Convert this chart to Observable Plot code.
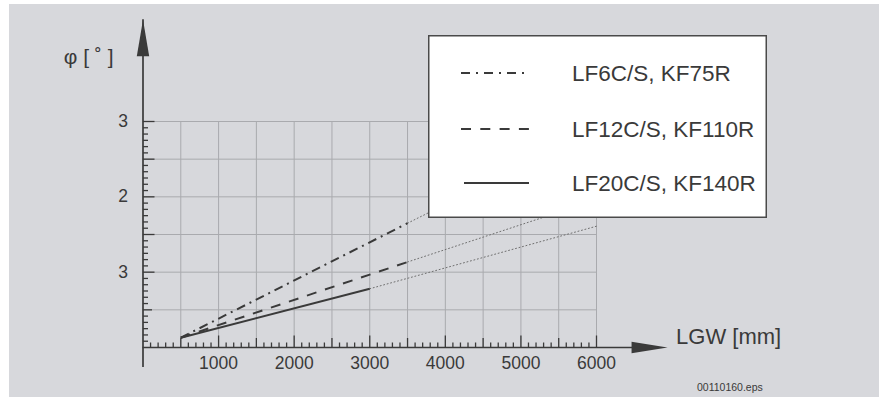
<!DOCTYPE html>
<html>
<head>
<meta charset="utf-8">
<script src="https://cdn.jsdelivr.net/npm/d3@7"></script>
<script src="https://cdn.jsdelivr.net/npm/@observablehq/plot@0.6"></script>
<style>
  body { margin: 0; background: #ffffff; font-family: "Liberation Sans", Arial, Helvetica, sans-serif; }
  #wrap { position: relative; width: 879px; height: 398px; overflow: hidden; }
  #bg { position: absolute; left: 9px; top: 4px; width: 870px; height: 393px; background: #d7d8dc; }
  #chart { position: absolute; left: 0; top: 0; }
  #legend { position: absolute; left: 428px; top: 35px; }
  #note { position: absolute; left: 697px; top: 380px; font-size: 10.5px; color: #3a3a3a; line-height: 14px; }
</style>
</head>
<body>
<div id="wrap">
  <div id="bg"></div>
  <div id="chart"></div>
  <div id="legend"></div>
  <div id="note"></div>
</div>
<script>
// ---- data ----
const seriesNames = ["LF6C/S, KF75R", "LF12C/S, KF110R", "LF20C/S, KF140R"];
const solidLGW = [[500, 3500], [500, 3500], [500, 3000]];
const solidPhi = [[0.13, 1.65], [0.13, 1.135], [0.13, 0.78]];
const dottedLGW = [[3500, 6000], [3500, 6000], [3000, 6000]];
const dottedPhi = [[1.65, 2.9], [1.135, 1.96], [0.78, 1.61]];
const xTickValues = [1000, 2000, 3000, 4000, 5000, 6000];
const yTickValues = [1, 2, 3];
const yTickLabels = ["3", "2", "3"];
const xGrid = [500, 1000, 1500, 2000, 2500, 3000, 3500, 4000, 4500, 5000, 5500, 6000];
const yGrid = [0.5, 1, 1.5, 2, 2.5, 3];
const xAxisEnd = 6940;
const yAxisEnd = 4.35;
const xLabel = "LGW [mm]";
const yLabel = "φ [ ˚ ]";
const fileNote = "00110160.eps";

// ---- styles ----
const ink = "#3a3a3a";
const gridColor = "#a9aaae";
const dashes = ["9,5,2,5", "10,9", null];
const legendDashes = ["9,6,2,6", "10,9.3", null];
const font = "'Liberation Sans', Arial, Helvetica, sans-serif";

const solidRows = seriesNames.flatMap((s, i) => solidLGW[i].map((x, j) => ({series: s, x, y: solidPhi[i][j]})));
const dottedRows = seriesNames.flatMap((s, i) => dottedLGW[i].map((x, j) => ({series: s, x, y: dottedPhi[i][j]})));

const xMinor = d3.range(100, 6001, 100).filter(v => v % 500 !== 0);
const xHalf = xGrid.filter(v => v % 1000 !== 0);
const xWhole = xGrid.filter(v => v % 1000 === 0);
const yMinor = d3.range(1, 37).map(k => k / 12).filter(v => Math.abs(v * 2 - Math.round(v * 2)) > 1e-6);
const yMajor = yGrid.filter(v => v !== 0.5);

const tickUp = len => ({draw(ctx) { ctx.moveTo(0, 0); ctx.lineTo(0, -len); }});
const tickRight = len => ({draw(ctx) { ctx.moveTo(0, 0); ctx.lineTo(len, 0); }});
const headRight = {draw(ctx) { ctx.moveTo(0, 0); ctx.lineTo(-36, -5.8); ctx.lineTo(-36, 5.8); ctx.closePath(); }};
const headUp = {draw(ctx) { ctx.moveTo(0, 0); ctx.lineTo(-6.2, 36.5); ctx.lineTo(6.2, 36.5); ctx.closePath(); }};
const yLabelOf = new Map(yTickValues.map((v, i) => [v, yTickLabels[i]]));

const lineMarks = seriesNames.map((s, i) =>
  Plot.line(solidRows.filter(d => d.series === s), {
    x: "x", y: "y", stroke: ink, strokeWidth: 2,
    strokeDasharray: dashes[i] || undefined, strokeLinecap: "butt"
  })
);

const plot = Plot.plot({
  width: 879,
  height: 398,
  marginLeft: 142.5,
  marginRight: 283,
  marginTop: 121,
  marginBottom: 51,
  x: {domain: [0, 6000]},
  y: {domain: [0, 3]},
  style: {background: "transparent", color: ink, fontFamily: font, maxWidth: "none"},
  marks: [
    Plot.ruleX(xGrid, {y1: 0, y2: 3, stroke: gridColor, strokeWidth: 1}),
    Plot.ruleY(yGrid, {x1: 0, x2: 6000, stroke: gridColor, strokeWidth: 1}),
    Plot.line(dottedRows, {x: "x", y: "y", z: "series", stroke: "#6f6f6f", strokeWidth: 1, strokeDasharray: "1,2.6"}),
    ...lineMarks,
    // axes lines
    Plot.ruleY([0], {x1: 0, x2: xAxisEnd, insetRight: 20, stroke: ink, strokeWidth: 1.7}),
    Plot.ruleX([0], {y1: 0, y2: yAxisEnd, insetTop: 20, stroke: ink, strokeWidth: 1.7}),
    Plot.dot([0], {x: xAxisEnd, y: 0, symbol: headRight, fill: ink, stroke: "none"}),
    Plot.dot([0], {x: 0, y: yAxisEnd, symbol: headUp, fill: ink, stroke: "none"}),
    // tick marks
    Plot.dot(xMinor, {x: d => d, y: 0, symbol: tickUp(5), stroke: ink, strokeWidth: 1.3, fill: "none"}),
    Plot.dot(xHalf, {x: d => d, y: 0, symbol: tickUp(9.5), stroke: ink, strokeWidth: 1.3, fill: "none"}),
    Plot.dot(xWhole, {x: d => d, y: 0, symbol: tickUp(12), stroke: ink, strokeWidth: 1.3, fill: "none"}),
    Plot.dot(yMinor, {x: 0, y: d => d, symbol: tickRight(5), stroke: ink, strokeWidth: 1.3, fill: "none"}),
    Plot.dot([0.5], {x: 0, y: d => d, symbol: tickRight(9), stroke: ink, strokeWidth: 1.3, fill: "none"}),
    Plot.dot(yMajor, {x: 0, y: d => d, symbol: tickRight(11.5), stroke: ink, strokeWidth: 1.3, fill: "none"}),
    // tick labels
    Plot.axisX({ticks: xTickValues, tickFormat: d => String(d), tickSize: 0, tickPadding: 9, fontSize: 17.5, label: null}),
    Plot.axisY({ticks: yTickValues, tickFormat: d => yLabelOf.get(d), tickSize: 0, tickPadding: 15, fontSize: 17.5, label: null}),
    // axis titles
    Plot.text([xLabel], {x: xAxisEnd, y: 0, text: d => d, textAnchor: "start", dx: 8.5, dy: -11, fontSize: 22, fill: ink}),
    Plot.text([yLabel], {x: 0, y: yAxisEnd, text: d => d, textAnchor: "end", dx: -29.5, dy: 37, fontSize: 21, fill: ink})
  ]
});
document.getElementById("chart").appendChild(plot);

// ---- legend box ----
const lw = 339, lh = 183;
const leg = d3.select("#legend").append("svg")
  .attr("width", lw).attr("height", lh)
  .style("display", "block").style("font-family", font);
leg.append("rect").attr("x", 0.75).attr("y", 0.75).attr("width", lw - 1.5).attr("height", lh - 1.5)
  .attr("fill", "#ffffff").attr("stroke", "#4a4a4a").attr("stroke-width", 1.5);
const rowY = [38, 94, 148];
seriesNames.forEach((s, i) => {
  leg.append("line")
    .attr("x1", i === 2 ? 36 : 33).attr("x2", 101).attr("y1", rowY[i]).attr("y2", rowY[i])
    .attr("stroke", ink).attr("stroke-width", 2)
    .attr("stroke-dasharray", legendDashes[i]);
  leg.append("text")
    .attr("x", 144).attr("y", rowY[i]).attr("dy", "0.35em")
    .attr("font-size", 22.5).attr("fill", ink).text(s);
});

document.getElementById("note").textContent = fileNote;
</script>
</body>
</html>
